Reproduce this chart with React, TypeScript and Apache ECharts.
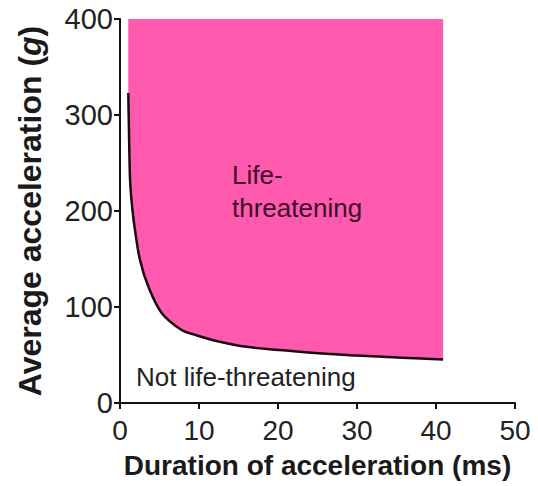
import React, { useEffect, useRef } from "react";
import * as echarts from "echarts";

const durationMs = [1.05, 1.12, 1.2, 1.3, 1.55, 1.9, 2.53, 3.6, 5.3, 7.8, 9.5, 12.5, 16, 22, 28.7, 35, 40.9];
const avgAccelG = [323, 290, 255, 228, 203, 180, 149, 121, 93.5, 76, 71, 64, 58.5, 54, 50, 47.5, 45.4];
const xTicks = [0, 10, 20, 30, 40, 50];
const yTicks = [0, 100, 200, 300, 400];

export default function App() {
  const ref = useRef<HTMLDivElement>(null);
  useEffect(() => {
    if (!ref.current) return;
    const chart = echarts.init(ref.current, null, { renderer: "svg" });
    const font = "'Liberation Sans', Arial, sans-serif";
    chart.setOption({
      animation: false,
      backgroundColor: "#ffffff",
      grid: { left: 120, right: 23, top: 19, bottom: 83, containLabel: false },
      xAxis: {
        type: "value",
        min: xTicks[0],
        max: xTicks[xTicks.length - 1],
        interval: 10,
        name: "Duration of acceleration (ms)",
        nameLocation: "middle",
        nameGap: 48,
        nameTextStyle: { fontFamily: font, fontSize: 28, fontWeight: "bold", color: "#1a1a1a" },
        axisLine: { show: true, lineStyle: { color: "#111", width: 2 } },
        axisTick: { show: true, length: 6, lineStyle: { color: "#111", width: 2 } },
        axisLabel: { fontFamily: font, fontSize: 28, color: "#222", margin: 13 },
        splitLine: { show: false },
      },
      yAxis: {
        type: "value",
        min: yTicks[0],
        max: yTicks[yTicks.length - 1],
        interval: 100,
        name: "Average acceleration ({i|g})",
        nameLocation: "middle",
        nameGap: 74,
        nameRotate: 90,
        nameTextStyle: {
          fontFamily: font,
          fontSize: 32,
          fontWeight: "bold",
          color: "#1a1a1a",
          rich: {
            i: { fontFamily: font, fontSize: 32, fontWeight: "bold", fontStyle: "italic", color: "#1a1a1a" },
          },
        },
        axisLine: { show: true, lineStyle: { color: "#111", width: 2 } },
        axisTick: { show: true, length: 6, lineStyle: { color: "#111", width: 2 } },
        axisLabel: { fontFamily: font, fontSize: 29, color: "#222", margin: 7 },
        splitLine: { show: false },
      },
      series: [
        {
          type: "line",
          data: durationMs.map((d, i) => [d, avgAccelG[i]]),
          smooth: 0.35,
          symbol: "none",
          lineStyle: { color: "#1a0812", width: 2.5 },
          areaStyle: { origin: "end", color: "#ff5aae", opacity: 1 },
        },
      ],
      graphic: [
        {
          type: "text",
          left: 232,
          top: 158,
          z: 100,
          style: {
            text: "Life-\nthreatening",
            fontFamily: font,
            fontSize: 26,
            lineHeight: 33,
            fill: "#3a0c2a",
          },
        },
        {
          type: "text",
          left: 136,
          top: 364,
          z: 100,
          style: {
            text: "Not life-threatening",
            fontFamily: font,
            fontSize: 26,
            fill: "#222",
          },
        },
      ],
    });
    return () => chart.dispose();
  }, []);
  return <div ref={ref} style={{ width: 538, height: 486, position: "absolute", left: 0, top: 0 }} />;
}
